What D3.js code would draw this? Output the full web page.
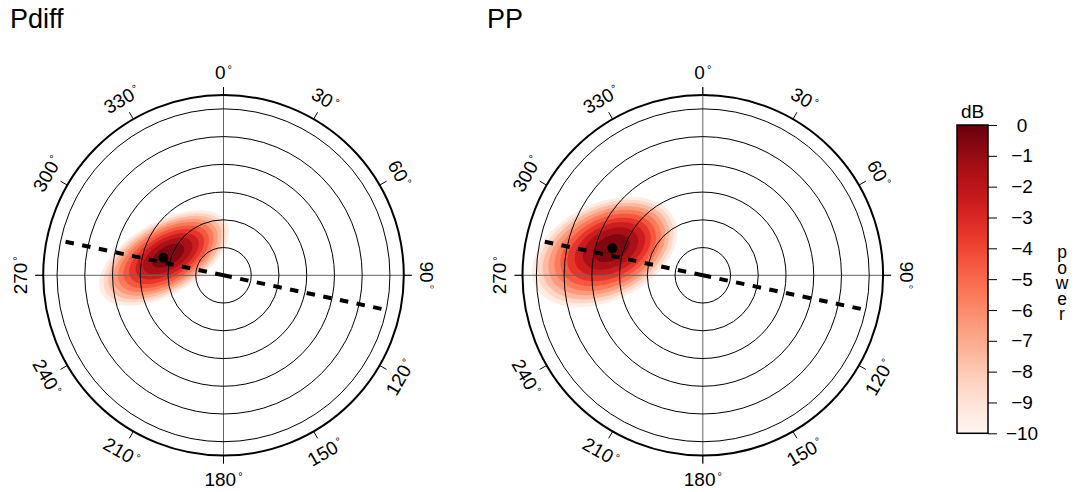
<!DOCTYPE html>
<html>
<head>
<meta charset="utf-8">
<script src="https://cdn.jsdelivr.net/npm/d3@7"></script>
<style>
  html, body { margin: 0; padding: 0; background: #fff; }
  svg { display: block; font-family: "Liberation Sans", Arial, Helvetica, sans-serif; }
  .vertical { writing-mode: vertical-rl; text-orientation: upright; }
</style>
</head>
<body>
<svg id="chart" width="1076" height="492"></svg>
<script>
// Beam-power maps in slowness space for two phases
const phases = ["Pdiff", "PP"];
const ringSlowness = [1, 2, 3, 4, 5, 6];
const maxSlowness = 6.5;
const azimuthTicks = [0, 30, 60, 90, 120, 150, 180, 210, 240, 270, 300, 330];
const dbTicks = [0, -1, -2, -3, -4, -5, -6, -7, -8, -9, -10];
const contourLevels = [-10, -9, -8, -7, -6, -5, -4, -3, -2, -1];

// Contour of each level as an ellipse: [east, north, semi-major, semi-minor, tilt deg ccw from east]
const pdiffContours = [
  [-2.140, 0.620, 2.60, 1.30, 30],
  [-2.125, 0.630, 2.44, 1.22, 30],
  [-2.110, 0.640, 2.27, 1.14, 30],
  [-2.095, 0.650, 2.09, 1.05, 30],
  [-2.080, 0.660, 1.91, 0.96, 30],
  [-2.065, 0.665, 1.71, 0.86, 30],
  [-2.050, 0.675, 1.50, 0.75, 30],
  [-2.030, 0.685, 1.26, 0.63, 30],
  [-2.015, 0.700, 0.99, 0.50, 30],
  [-2.000, 0.710, 0.65, 0.33, 30]
];
const ppContours = [
  [-3.54, 0.840, 2.78, 1.75, 26],
  [-3.51, 0.855, 2.61, 1.64, 26],
  [-3.49, 0.870, 2.43, 1.53, 26],
  [-3.46, 0.885, 2.24, 1.41, 26],
  [-3.43, 0.900, 2.04, 1.29, 26],
  [-3.41, 0.915, 1.83, 1.15, 26],
  [-3.38, 0.930, 1.60, 1.01, 26],
  [-3.35, 0.950, 1.35, 0.85, 26],
  [-3.33, 0.965, 1.06, 0.67, 26],
  [-3.30, 0.980, 0.70, 0.44, 26]
];
const contoursByPhase = [pdiffContours, ppContours];

// Beam maximum (slowness, backazimuth) and great-circle backazimuth
const peakSlowness = [2.26, 3.40];
const peakBackazimuth = [286.3, 286.6];
const pathBackazimuth = [282, 282];
const pathReach = 5.9;

// ---- layout ----
const svg = d3.select("#chart");
const panelCx = [223.5, 702.8];
const panelCy = 275.3;
const R = 180.3;
const rad = Math.PI / 180;

const color = d3.scaleSequential(d3.interpolateReds).domain([-10, 0]);
const minus = d => (d < 0 ? "\u2212" + Math.abs(d) : String(d));

svg.append("rect").attr("width", 1076).attr("height", 492).attr("fill", "#fff");

phases.forEach((phase, i) => {
  const cx = panelCx[i], cy = panelCy;
  const x = d3.scaleLinear().domain([-maxSlowness, maxSlowness]).range([cx - R, cx + R]);
  const y = d3.scaleLinear().domain([-maxSlowness, maxSlowness]).range([cy + R, cy - R]);
  const polar = (s, az) => [x(s * Math.sin(az * rad)), y(s * Math.cos(az * rad))];
  const g = svg.append("g");

  // title
  g.append("text")
    .attr("x", i === 0 ? 10 : 487).attr("y", 28)
    .attr("font-size", 27).attr("fill", "#000")
    .text(phase);

  // filled contour bands
  const line = d3.line().curve(d3.curveLinearClosed);
  contoursByPhase[i].forEach((c, k) => {
    const [e, n, a, b, t] = c;
    const tr = t * rad;
    const pts = d3.range(0, 360, 3).map(p => {
      const u = a * Math.cos(p * rad), v = b * Math.sin(p * rad);
      return [x(e + u * Math.cos(tr) - v * Math.sin(tr)), y(n + u * Math.sin(tr) + v * Math.cos(tr))];
    });
    g.append("path").attr("d", line(pts)).attr("fill", color(contourLevels[k] + 0.5));
  });

  // cross-hair axes
  const reach = (x(maxSlowness) - x(0)) + 8;
  g.append("line").attr("x1", cx).attr("x2", cx).attr("y1", cy - reach).attr("y2", cy + reach)
    .attr("stroke", "#666").attr("stroke-width", 1);
  g.append("line").attr("y1", cy).attr("y2", cy).attr("x1", cx - reach).attr("x2", cx + reach)
    .attr("stroke", "#666").attr("stroke-width", 1);

  // slowness rings
  g.selectAll(".ring").data(ringSlowness).join("circle")
    .attr("cx", cx).attr("cy", cy).attr("r", d => x(d) - x(0))
    .attr("fill", "none").attr("stroke", "#000").attr("stroke-width", 1);
  g.append("circle").attr("cx", cx).attr("cy", cy).attr("r", x(maxSlowness) - x(0))
    .attr("fill", "none").attr("stroke", "#000").attr("stroke-width", 2);

  // azimuth ticks and labels
  const unit = x(1) - x(0);
  azimuthTicks.forEach(az => {
    const [x1, y1] = polar(maxSlowness, az);
    const [x2, y2] = polar(maxSlowness + 8 / unit, az);
    g.append("line").attr("x1", x1).attr("y1", y1).attr("x2", x2).attr("y2", y2)
      .attr("stroke", "#000").attr("stroke-width", 1);
    const [lx, ly] = polar(maxSlowness + 23.3 / unit, az);
    const rot = az <= 90 ? az : (az < 270 ? az - 180 : az - 360);
    const t = g.append("text")
      .attr("transform", `translate(${lx},${ly}) rotate(${rot})`)
      .attr("text-anchor", "middle").attr("dy", "0.36em")
      .attr("font-size", 19).attr("fill", "#000")
      .text(az);
    t.append("tspan").attr("dx", 2).attr("dy", "-0.5em").attr("font-size", 11).text("°");
  });

  // great-circle path, drawn outward from the centre both ways
  [pathBackazimuth[i], pathBackazimuth[i] + 180].forEach(az => {
    const [x2, y2] = polar(pathReach, az);
    g.append("line").attr("x1", x(0)).attr("y1", y(0)).attr("x2", x2).attr("y2", y2)
      .attr("stroke", "#000").attr("stroke-width", 4).attr("stroke-dasharray", "8.5,8.5");
  });

  // beam maximum
  const [px, py] = polar(peakSlowness[i], peakBackazimuth[i]);
  g.append("circle").attr("cx", px).attr("cy", py).attr("r", 5).attr("fill", "#000");
});

// ---- colour bar ----
const barX = 957, barW = 31;
const yBar = d3.scaleLinear().domain([-10, 0]).range([433.3, 125]);
const defs = svg.append("defs");
const grad = defs.append("linearGradient").attr("id", "dbGrad")
  .attr("x1", 0).attr("y1", 1).attr("x2", 0).attr("y2", 0);
d3.range(0, 1.0001, 0.05).forEach(t => {
  grad.append("stop").attr("offset", t).attr("stop-color", d3.interpolateReds(t));
});
svg.append("rect").attr("x", barX).attr("y", yBar(0)).attr("width", barW)
  .attr("height", yBar(-10) - yBar(0)).attr("fill", "url(#dbGrad)")
  .attr("stroke", "#000").attr("stroke-width", 1.5);

const axis = svg.append("g").attr("transform", `translate(${barX + barW},0)`)
  .call(d3.axisRight(yBar).tickValues(dbTicks).tickSize(9).tickFormat(minus));
axis.select(".domain").remove();
axis.selectAll(".tick line").attr("stroke", "#000").attr("stroke-width", 1);
axis.selectAll(".tick text")
  .attr("x", 34).attr("text-anchor", "middle")
  .attr("font-size", 19).attr("font-family", "Liberation Sans, Arial, sans-serif").attr("fill", "#000");

svg.append("text").attr("x", barX + barW / 2).attr("y", 118)
  .attr("text-anchor", "middle").attr("font-size", 19).text("dB");

// axis title written as an upright vertical column
svg.append("text").attr("class", "vertical")
  .attr("x", 1062).attr("y", 242)
  .attr("font-size", 17.5).attr("letter-spacing", -4.5)
  .text("power");
</script>
</body>
</html>
